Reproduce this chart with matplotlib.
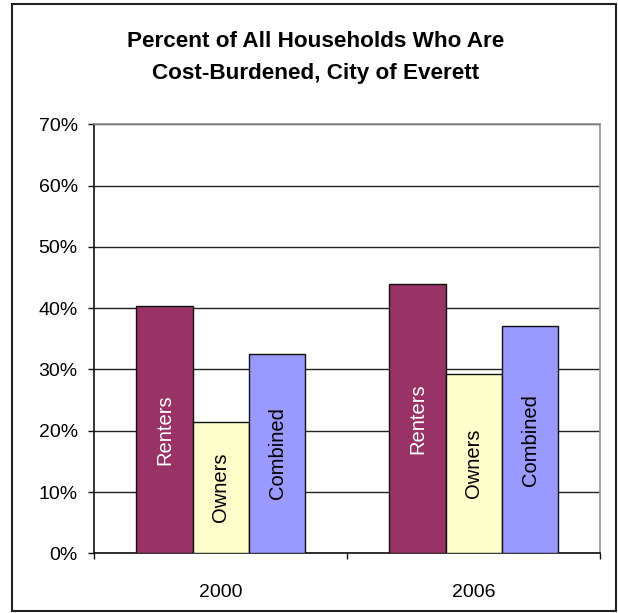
import matplotlib
matplotlib.use("Agg")
import matplotlib.pyplot as plt
from matplotlib.patches import Rectangle
from matplotlib.ticker import FuncFormatter, FixedLocator
import numpy as np

plt.rcParams['font.family'] = ['Liberation Sans', 'DejaVu Sans']

years = ['2000', '2006']
series_names = ['Renters', 'Owners', 'Combined']
renters = [40.4, 43.9]
owners = [21.4, 29.3]
combined = [32.6, 37.1]
series_values = [renters, owners, combined]
series_colors = ['#993366', '#FFFFCC', '#9999FF']
label_colors = ['white', 'black', 'black']
y_ticks = [0, 10, 20, 30, 40, 50, 60, 70]

fig = plt.figure(figsize=(6.18, 6.13), dpi=100)
fig.patch.set_facecolor('white')

# outer chart border
fig.patches.append(Rectangle((0.0194, 0.0033), 0.9774, 0.9902, transform=fig.transFigure,
                             fill=False, edgecolor='#222222', linewidth=1.5))

ax = fig.add_axes([0.1526, 0.0974, 0.8188, 0.6998])

width = 1 / 4.5
x = np.arange(len(years))
for k, (name, vals, col, lcol) in enumerate(zip(series_names, series_values,
                                                 series_colors, label_colors)):
    pos = x + (k - 1) * width
    ax.bar(pos, vals, width=width, color=col, edgecolor='#111111', linewidth=1.0, zorder=3)
    for p, v in zip(pos, vals):
        ax.text(p, v / 2, name, rotation=90, ha='center', va='center',
                color=lcol, fontsize=14.5, zorder=4)

ax.set_xlim(-0.5, len(years) - 0.5)
ax.set_ylim(0, 70)

ax.yaxis.set_major_locator(FixedLocator(y_ticks))
ax.yaxis.set_major_formatter(FuncFormatter(lambda v, _: f"{int(v)}%"))
ax.grid(axis='y', color='#222222', linewidth=1.0, zorder=0)
ax.set_axisbelow(True)

# category labels centred, ticks on category boundaries
ax.set_xticks(x)
ax.set_xticklabels(years)
ax.set_xticks(np.arange(-0.5, len(years), 1.0), minor=True)
ax.tick_params(axis='x', which='major', length=0, pad=22, labelsize=14)
ax.tick_params(axis='x', which='minor', length=4.5, width=1.0, color='#111111', direction='out')
ax.tick_params(axis='y', length=4.5, width=1.0, color='#111111', pad=7.5, labelsize=14)

for side in ['left', 'bottom']:
    ax.spines[side].set_color('#111111')
    ax.spines[side].set_linewidth(1.2)
for side in ['top', 'right']:
    ax.spines[side].set_color('#909090')
    ax.spines[side].set_linewidth(1.2)

fig.text(0.511, 0.9228, 'Percent of All Households Who Are', ha='center', va='baseline',
         fontsize=16.2, fontweight='bold')
fig.text(0.511, 0.8706, 'Cost-Burdened, City of Everett', ha='center', va='baseline',
         fontsize=16.2, fontweight='bold')

fig.savefig('out.png', dpi=100, facecolor='white')
